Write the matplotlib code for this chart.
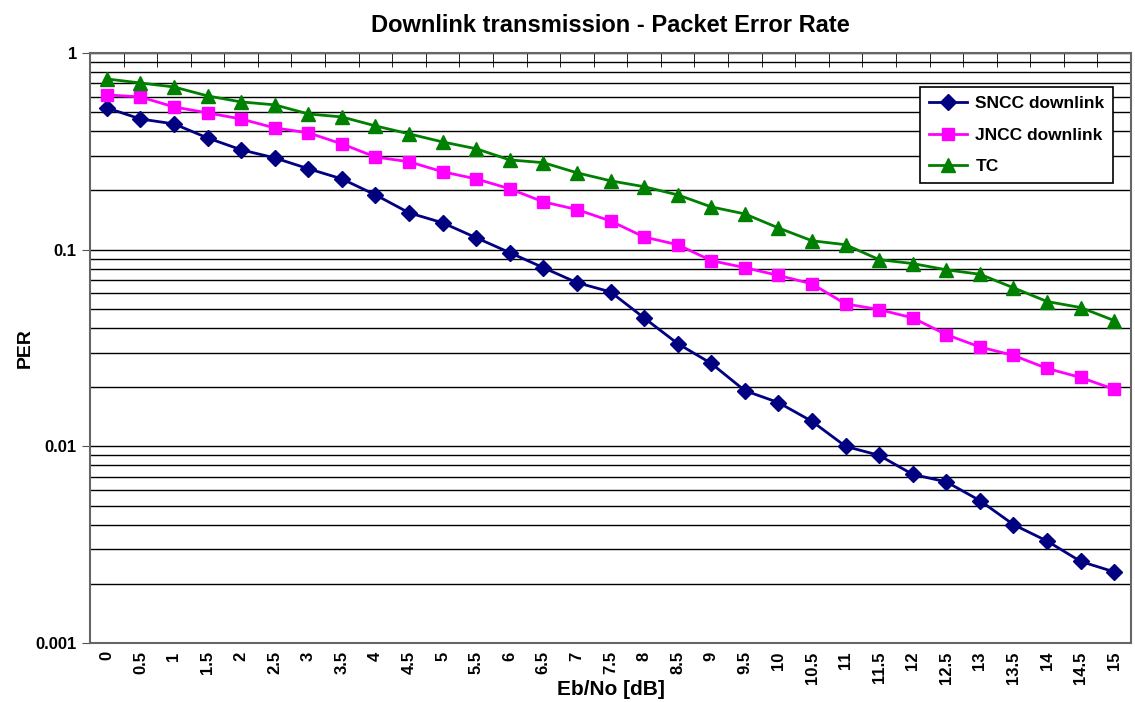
import matplotlib
matplotlib.use('Agg')
import matplotlib.pyplot as plt
from matplotlib.ticker import FixedLocator, NullFormatter, LogLocator
import numpy as np

plt.rcParams['font.family'] = ['Liberation Sans', 'DejaVu Sans']
plt.rcParams['font.weight'] = 'bold'

ebno = ['0', '0.5', '1', '1.5', '2', '2.5', '3', '3.5', '4', '4.5', '5', '5.5', '6', '6.5', '7', '7.5',
        '8', '8.5', '9', '9.5', '10', '10.5', '11', '11.5', '12', '12.5', '13', '13.5', '14', '14.5', '15']

sncc = [0.526, 0.462, 0.436, 0.370, 0.322, 0.293, 0.258, 0.229, 0.190, 0.154, 0.137, 0.115, 0.0966,
        0.081, 0.068, 0.061, 0.045, 0.0333, 0.0264, 0.0192, 0.0167, 0.0134, 0.0100, 0.0090, 0.0072,
        0.0066, 0.0053, 0.0040, 0.0033, 0.0026, 0.0023]
jncc = [0.612, 0.598, 0.532, 0.496, 0.462, 0.416, 0.393, 0.345, 0.296, 0.280, 0.249, 0.229, 0.204,
        0.175, 0.160, 0.140, 0.116, 0.106, 0.088, 0.081, 0.074, 0.067, 0.053, 0.0496, 0.045,
        0.037, 0.032, 0.029, 0.0249, 0.0224, 0.0195]
tc = [0.738, 0.704, 0.672, 0.605, 0.564, 0.545, 0.490, 0.473, 0.426, 0.388, 0.353, 0.326, 0.286,
      0.277, 0.246, 0.224, 0.209, 0.190, 0.165, 0.152, 0.129, 0.111, 0.106, 0.089, 0.085,
      0.079, 0.075, 0.064, 0.0545, 0.0508, 0.0436]

fig = plt.figure(figsize=(11.35, 7.02), dpi=100)
ax = fig.add_axes([0.0793, 0.084, 0.9172, 0.8405])

x = np.arange(len(ebno))
ax.plot(x, sncc, color='#000080', marker='D', markersize=8, linewidth=2, label='SNCC downlink', zorder=3)
ax.plot(x, jncc, color='#FF00FF', marker='s', markersize=9, linewidth=2, label='JNCC downlink', zorder=3)
ax.plot(x, tc, color='#008000', marker='^', markersize=10, linewidth=2, label='TC', zorder=3)

ax.set_yscale('log')
ax.set_ylim(0.001, 1)
ax.set_xlim(-0.5, len(ebno) - 0.5)

ax.yaxis.set_major_locator(FixedLocator([0.001, 0.01, 0.1, 1]))
ax.set_yticklabels(['0.001', '0.01', '0.1', '1'], fontsize=12, fontweight='bold')
ax.yaxis.set_minor_locator(LogLocator(base=10, subs=np.arange(2, 10)))
ax.yaxis.set_minor_formatter(NullFormatter())
ax.grid(True, which='both', axis='y', color='black', linewidth=1)
ax.tick_params(axis='y', which='major', direction='out', length=6, color='#555555')
ax.tick_params(axis='y', which='minor', length=0)

ax.set_xticks(x)
ax.set_xticklabels(ebno, rotation=90, fontsize=12, fontweight='bold')
ax.xaxis.set_minor_locator(FixedLocator(np.arange(0.5, len(ebno) - 0.5, 1)))
ax.tick_params(axis='x', which='major', length=0, pad=6)
ax.tick_params(axis='x', which='minor', bottom=False, top=True, direction='in', length=10, color='black')

for s in ax.spines.values():
    s.set_color('#666666')
    s.set_linewidth(1.5)

ax.set_title('Downlink transmission - Packet Error Rate', fontsize=17, fontweight='bold', pad=15)
ax.set_ylabel('PER', fontsize=14, fontweight='bold', labelpad=1)
ax.set_xlabel('Eb/No [dB]', fontsize=15, fontweight='bold', labelpad=-3)

leg = ax.legend(loc='upper right', bbox_to_anchor=(0.983, 0.942), fontsize=12.5, frameon=True,
                fancybox=False, edgecolor='black', framealpha=1, borderpad=0.5,
                handlelength=2.2, handletextpad=0.5, labelspacing=0.95, borderaxespad=0)
leg.get_frame().set_linewidth(1.2)

fig.savefig('out.png', dpi=100)
